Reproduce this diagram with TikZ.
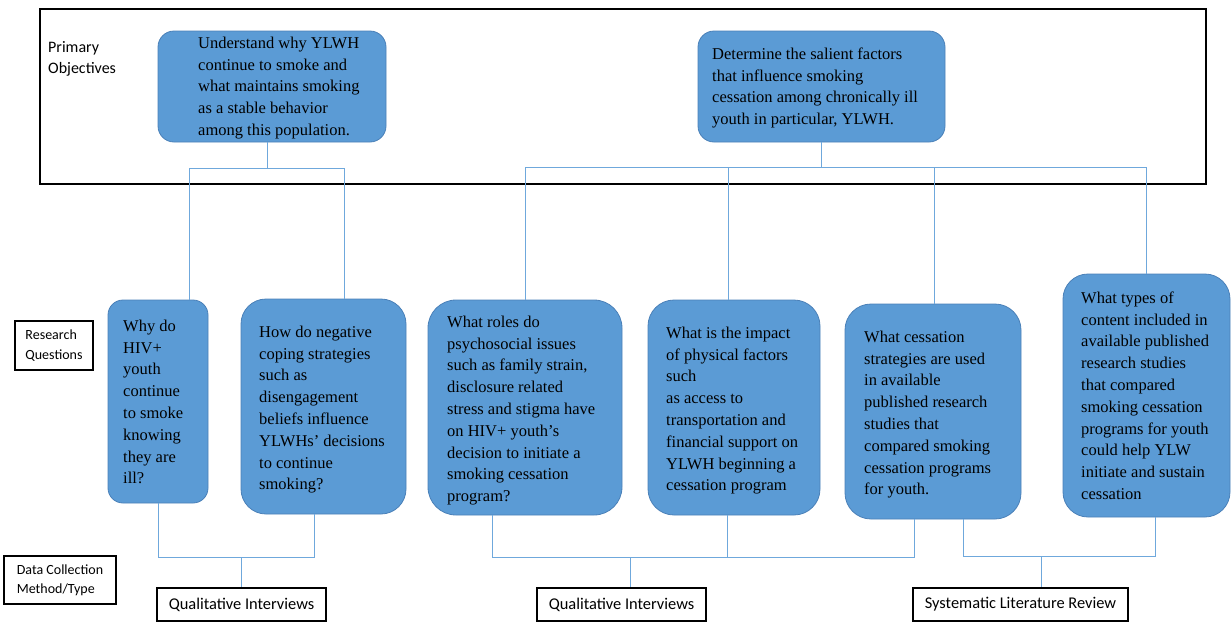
\documentclass[tikz,border=0pt]{standalone}
\usepackage{fontspec}
\setmainfont{Liberation Serif}
\newfontfamily\timesf{Liberation Serif}
\newfontfamily\calib{Carlito}
\definecolor{boxblue}{HTML}{5B9BD5}
\definecolor{boxedge}{HTML}{4A80B8}
\definecolor{connblue}{HTML}{6FA8DC}
\tikzset{
  qbox/.style={draw=boxedge, fill=boxblue, line width=0.8pt, inner sep=0pt},
  qtext/.style={anchor=north west, inner sep=0pt, align=left, font=\timesf\fontsize{16.5}{21.8}\selectfont},
  lab/.style={draw=black, line width=1.1pt, inner sep=0pt, align=left, font=\calib\fontsize{14}{19.3}\selectfont},
  mlab/.style={draw=black, line width=1.2pt, inner sep=0pt, align=center, font=\calib\fontsize{16.4}{19}\selectfont},
  conn/.style={draw=connblue, line width=1pt},
}
\newcommand{\fs}{\rule{0pt}{12pt}}
\begin{document}
\begin{tikzpicture}[x=1pt,y=-1pt]
\useasboundingbox (0,0) rectangle (1231,622);
% frame
\node[draw=black, line width=1.3pt, minimum width=1166pt, minimum height=175pt, inner sep=0pt] (frame) at (623,96.5) {};
\node[anchor=north west, inner sep=0pt, align=left, font=\calib\fontsize{16}{21.7}\selectfont] (po) at (48,40) {\fs Primary\\Objectives};
% objective boxes
\node[qbox, rounded corners=16pt, minimum width=228pt, minimum height=111pt] (o1) at (272,86.5) {};
\node[qtext] (o1t) at (198,36) {\fs Understand why YLWH\\continue to smoke and\\what maintains smoking\\as a stable behavior\\among this population.};
\node[qbox, rounded corners=16pt, minimum width=247pt, minimum height=111pt] (o2) at (821.5,86.5) {};
\node[qtext] (o2t) at (712,47) {\fs Determine the salient factors\\that influence smoking\\cessation among chronically ill\\youth in particular, YLWH.};
% research question boxes
\node[qbox, rounded corners=15pt, minimum width=100pt, minimum height=203pt] (qa) at (158,401.5) {};
\node[qtext] (qat) at (123,319) {\fs Why do\\HIV+\\youth\\continue\\to smoke\\knowing\\they are\\ill?};
\node[qbox, rounded corners=25pt, minimum width=165pt, minimum height=215pt] (qb) at (323.5,406.5) {};
\node[qtext] (qbt) at (259,325) {\fs How do negative\\coping strategies\\such as\\disengagement\\beliefs influence\\YLWHs’ decisions\\to continue\\smoking?};
\node[qbox, rounded corners=28pt, minimum width=194pt, minimum height=215pt] (qc) at (525,407.5) {};
\node[qtext] (qct) at (447,315) {\fs What roles do\\psychosocial issues\\such as family strain,\\disclosure related\\stress and stigma have\\on HIV+ youth’s\\decision to initiate a\\smoking cessation\\program?};
\node[qbox, rounded corners=26pt, minimum width=172pt, minimum height=215pt] (qd) at (734,407.5) {};
\node[qtext] (qdt) at (666,326) {\fs What is the impact\\of physical factors\\such\\as access to\\transportation and\\financial support on\\YLWH beginning a\\cessation program};
\node[qbox, rounded corners=26pt, minimum width=176pt, minimum height=215pt] (qe) at (933,411.5) {};
\node[qtext] (qet) at (864,330) {\fs What cessation\\strategies are used\\in available\\published research\\studies that\\compared smoking\\cessation programs\\for youth.};
\node[qbox, rounded corners=25pt, minimum width=167pt, minimum height=243pt] (qf) at (1146.5,395.5) {};
\node[qtext] (qft) at (1081,291) {\fs What types of\\content included in\\available published\\research studies\\that compared\\smoking cessation\\programs for youth\\could help YLW\\initiate and sustain\\cessation};
% side labels
\node[lab, minimum width=78pt, minimum height=49pt] (rq) at (54,345.5) {Research\\Questions};
\node[lab, minimum width=112pt, minimum height=48pt] (dc) at (60,580) {Data Collection\\Method/Type};
% method boxes
\node[mlab, minimum width=169pt, minimum height=33pt] (m1) at (241.5,604.5) {Qualitative Interviews};
\node[mlab, minimum width=169pt, minimum height=33pt] (m2) at (621.5,604.5) {Qualitative Interviews};
\node[mlab, minimum width=215pt, minimum height=33pt] (m3) at (1020.5,604.5) {Systematic Literature Review};
% top connectors
\coordinate (jL) at (267,168);
\coordinate (jLa) at (189,168);
\coordinate (jLb) at (344,168);
\draw[conn] (o1.south -| jL) -- (jL);
\draw[conn] (jLa) -- (jLb);
\draw[conn] (jLa) -- (qa.north -| jLa);
\draw[conn] (jLb) -- (qb.north -| jLb);
\coordinate (jR) at (821,167);
\coordinate (jRc) at (525,167);
\coordinate (jRd) at (728,167);
\coordinate (jRe) at (934,167);
\coordinate (jRf) at (1146,167);
\draw[conn] (o2.south -| jR) -- (jR);
\draw[conn] (jRc) -- (jRf);
\draw[conn] (jRc) -- (qc.north -| jRc);
\draw[conn] (jRd) -- (qd.north -| jRd);
\draw[conn] (jRe) -- (qe.north -| jRe);
\draw[conn] (jRf) -- (qf.north -| jRf);
% bottom connectors
\coordinate (kA) at (158,557);
\coordinate (kB) at (314,557);
\coordinate (kQ1) at (241,557);
\draw[conn] (qa.south -| kA) -- (kA) -- (kB) -- (qb.south -| kB);
\draw[conn] (kQ1) -- (m1.north -| kQ1);
\coordinate (kC) at (492,557);
\coordinate (kD) at (727,557);
\coordinate (kE) at (914,557);
\coordinate (kQ2) at (630,557);
\draw[conn] (qc.south -| kC) -- (kC) -- (kE) -- (qe.south -| kE);
\draw[conn] (qd.south -| kD) -- (kD);
\draw[conn] (kQ2) -- (m2.north -| kQ2);
\coordinate (kE2) at (963,556);
\coordinate (kF) at (1155,556);
\coordinate (kQ3) at (1041,556);
\draw[conn] (qe.south -| kE2) -- (kE2) -- (kF) -- (qf.south -| kF);
\draw[conn] (kQ3) -- (m3.north -| kQ3);
\end{tikzpicture}
\end{document}
